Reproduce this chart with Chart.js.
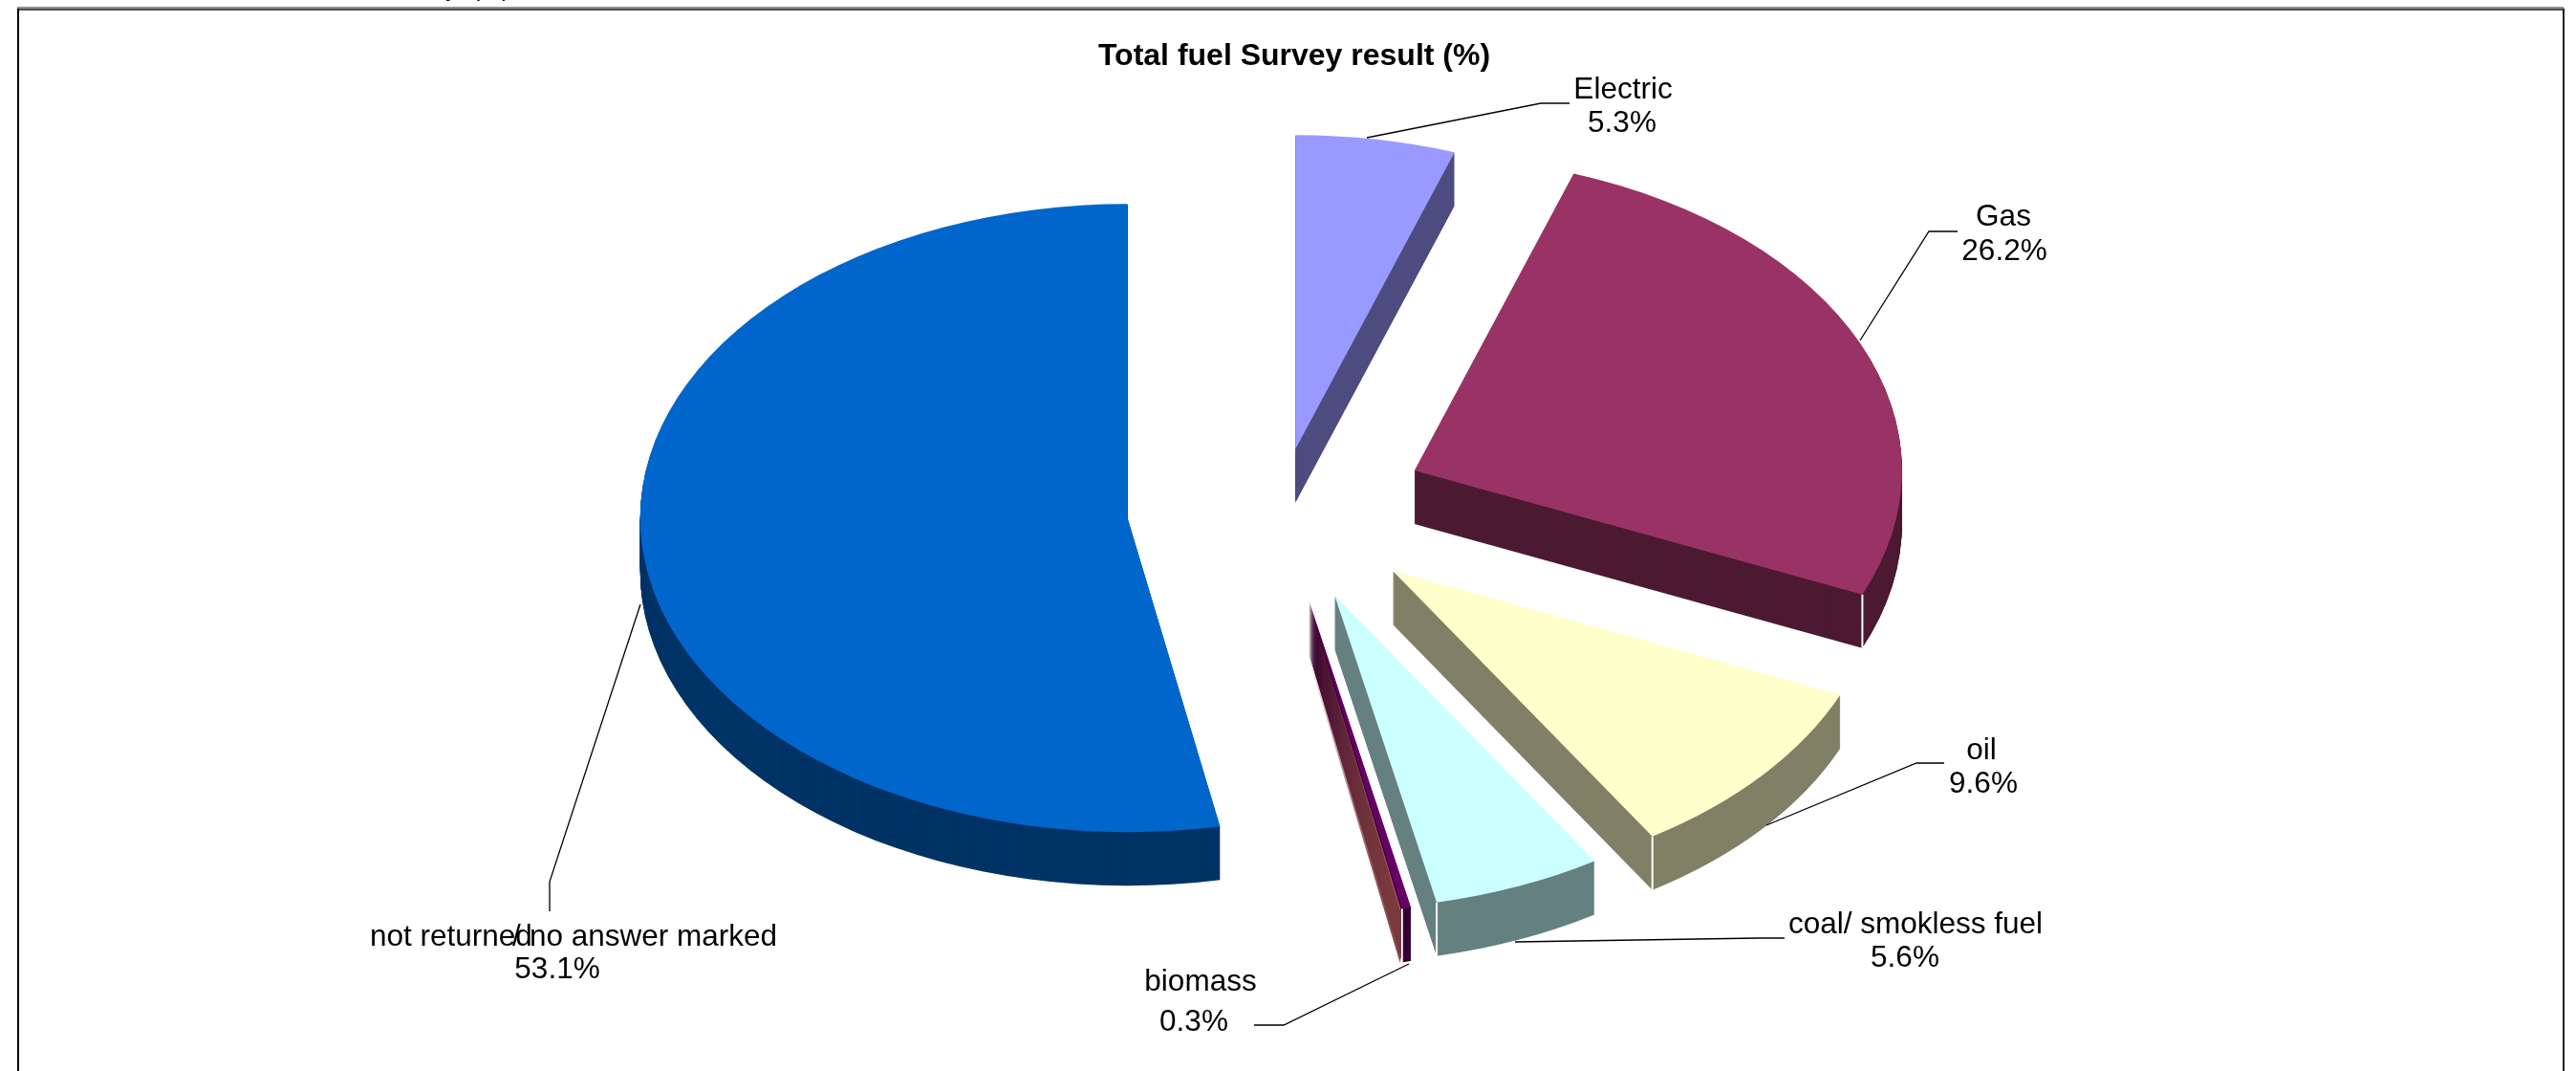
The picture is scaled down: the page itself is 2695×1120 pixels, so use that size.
<!DOCTYPE html>
<html lang="en">
<head>
    <meta charset="UTF-8">
    <title>Total fuel Survey result (%)</title>
    <script src="https://cdn.jsdelivr.net/npm/chart.js"></script>
    <style>
        html, body { margin: 0; padding: 0; background: #fff; overflow: hidden; }
        canvas { display: block; }
    </style>
</head>
<body>
    <canvas id="fuelPie" width="2695" height="1120"></canvas>

    <script>
        // values
        const categories = ['Electric', 'Gas', 'oil', 'coal/ smokless fuel', 'biomass', '', 'not returned/no answer marked'];
        // the unnamed entry is a sliver with no label, only its side face shows next to biomass
        const shares = [5.3, 26.2, 9.6, 5.6, 0.3, 0.02, 53.1];

        const topColors = ['#9999FF', '#993366', '#FFFFCC', '#CCFFFF', '#660066', '#FF8080', '#0066CC'];
        const sideColors = ['#4D4D80', '#4D1A33', '#808066', '#668080', '#330033', '#804040', '#003366'];

        // how far each slice is pulled out of the pie, before the tilt
        const explode = [98, 154, 155, 152, 152, 152, 160];

        const FONT = '"Liberation Sans", Arial, sans-serif';
        const pieCenter = { x: 1339, y: 532 };
        const pieRadius = 510;
        const tilt = 0.644;
        const depth = 56;
        const seamSlices = [1, 2, 3, 4];

        // label placement, one entry per slice: name x/baseline, value x/baseline
        const labelSpots = [
            [1698, 103, 1697, 138],
            [2096, 236, 2097, 272],
            [2073, 794, 2075, 829],
            [2004, 976, 1993, 1011],
            [1256, 1036, 1249, 1078],
            null,
            [null, 989, 583, 1023]
        ];
        // the last label overlaps itself in the original
        const splitName = [['not returned', 387], ['/', 536], ['no answer marked', 554]];

        const leaders = [
            [[1430, 144], [1612, 108], [1642, 108]],
            [[1946, 356], [2018, 242], [2048, 242]],
            [[1848, 863], [2005, 798], [2034, 798]],
            [[1585, 985], [1840, 981], [1867, 981]],
            [[1474, 1008], [1343, 1072], [1312, 1072]],
            [[670, 632], [575, 922], [575, 953]]
        ];

        function placeSlice(ctx, arc, i, drop) {
            const mid = (arc.startAngle + arc.endAngle) / 2;
            ctx.translate(pieCenter.x, pieCenter.y + drop);
            ctx.scale(1, tilt);
            ctx.translate(Math.cos(mid) * explode[i], Math.sin(mid) * explode[i]);
        }

        function paintSlice(ctx, arc, i, color, drop) {
            const base = arc.options;
            ctx.save();
            placeSlice(ctx, arc, i, drop);
            ctx.translate(-arc.x, -arc.y);
            arc.options = Object.assign({}, base, { backgroundColor: color, borderWidth: 0 });
            arc.draw(ctx);
            arc.options = base;
            ctx.restore();
        }

        // point on a slice's rim at a given angle, in page pixels
        function rimPoint(arc, i, angle, radius) {
            const mid = (arc.startAngle + arc.endAngle) / 2;
            return [
                pieCenter.x + Math.cos(mid) * explode[i] + Math.cos(angle) * radius,
                pieCenter.y + (Math.sin(mid) * explode[i] + Math.sin(angle) * radius) * tilt
            ];
        }

        // squashes the pie and stacks copies of each arc to get the 3D look
        const tiltedPie = {
            id: 'tiltedPie',
            beforeDraw(chart) {
                const ctx = chart.ctx;
                ctx.save();
                ctx.fillStyle = '#fff';
                ctx.fillRect(0, 0, chart.width, chart.height);
                // text of the sheet above the chart, cut off by the crop
                ctx.fillStyle = '#000';
                ctx.font = '26px ' + FONT;
                ctx.textAlign = 'right';
                ctx.textBaseline = 'alphabetic';
                ctx.fillText('Total fuel Survey  (%)', 534, -4);
                // frame
                ctx.fillStyle = '#909090';
                ctx.fillRect(18, 7, 2664, 2);
                ctx.fillStyle = '#505050';
                ctx.fillRect(18, 9, 2664, 2);
                ctx.fillStyle = '#000';
                ctx.fillRect(18, 9, 2, chart.height - 9);
                ctx.fillStyle = '#222';
                ctx.fillRect(2681, 9, 2, chart.height - 9);
                ctx.restore();
            },
            beforeDatasetsDraw(chart) {
                const ctx = chart.ctx;
                const arcs = chart.getDatasetMeta(0).data;

                arcs.forEach((arc, i) => {
                    for (let drop = depth; drop > 0; drop--) {
                        paintSlice(ctx, arc, i, sideColors[i], drop);
                    }
                });

                // white corner where the cut face meets the rim
                ctx.save();
                ctx.strokeStyle = '#fff';
                ctx.lineWidth = 2;
                seamSlices.forEach(i => {
                    const [x, y] = rimPoint(arcs[i], i, arcs[i].endAngle, arcs[i].outerRadius);
                    ctx.beginPath();
                    ctx.moveTo(x, y);
                    ctx.lineTo(x, y + depth);
                    ctx.stroke();
                });
                ctx.restore();

                arcs.forEach((arc, i) => paintSlice(ctx, arc, i, topColors[i], 0));
                return false;
            },
            afterDraw(chart) {
                const ctx = chart.ctx;
                ctx.save();
                ctx.strokeStyle = '#000';
                ctx.lineWidth = 1.3;
                leaders.forEach(line => {
                    ctx.beginPath();
                    line.forEach(([x, y], n) => n ? ctx.lineTo(x, y) : ctx.moveTo(x, y));
                    ctx.stroke();
                });

                ctx.fillStyle = '#000';
                ctx.font = '31.5px ' + FONT;
                ctx.textBaseline = 'alphabetic';
                categories.forEach((name, i) => {
                    const spot = labelSpots[i];
                    if (!spot) return;
                    ctx.textAlign = 'center';
                    ctx.fillText(shares[i].toFixed(1) + '%', spot[2], spot[3]);
                    if (spot[0] === null) {
                        ctx.textAlign = 'left';
                        splitName.forEach(([part, x]) => ctx.fillText(part, x, spot[1]));
                    } else {
                        ctx.fillText(name, spot[0], spot[1]);
                    }
                });
                ctx.restore();
            }
        };

        new Chart(document.getElementById('fuelPie'), {
            type: 'pie',
            plugins: [tiltedPie],
            data: {
                labels: categories,
                datasets: [{
                    data: shares,
                    backgroundColor: topColors,
                    borderWidth: 0
                }]
            },
            options: {
                responsive: false,
                animation: false,
                radius: pieRadius,
                layout: { padding: { left: 13 } },
                plugins: {
                    legend: { display: false },
                    tooltip: { enabled: false },
                    title: {
                        display: true,
                        text: 'Total fuel Survey result (%)',
                        color: '#000',
                        font: { family: FONT, size: 32, weight: 'bold' },
                        padding: { top: 40, bottom: 0 }
                    }
                }
            }
        });
    </script>
</body>
</html>
